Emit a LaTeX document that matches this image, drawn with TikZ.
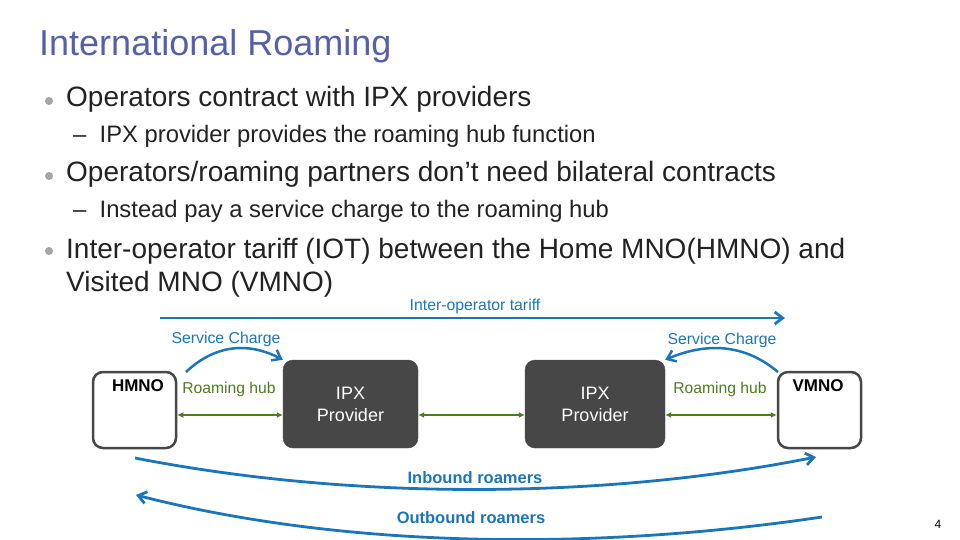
\documentclass[tikz,border=0pt]{standalone}
\usepackage{fontspec}
\setmainfont{Liberation Sans}
\usetikzlibrary{arrows.meta}
\definecolor{ttl}{HTML}{5560AA}
\definecolor{blu}{HTML}{1B75BB}
\definecolor{grn}{HTML}{4E7D1E}
\definecolor{dk}{HTML}{474747}
\definecolor{txt}{HTML}{222222}
\begin{document}
\begin{tikzpicture}[x=1pt,y=-1pt,
  bul/.style={circle,fill=gray!70,inner sep=0pt,minimum size=8pt},
  t1/.style={anchor=west,txt,font=\fontsize{28}{33}\selectfont,inner sep=0pt,align=left},
  t2/.style={anchor=west,txt,font=\fontsize{23.8}{27}\selectfont,inner sep=0pt},
  wbox/.style={draw=dk,line width=2.5pt,rounded corners=10pt,fill=white},
  dbox/.style={draw=dk,fill=dk,rounded corners=10pt,text=white,font=\fontsize{18}{22}\selectfont,align=center},
  bl/.style={blu,font=\fontsize{15.8}{18}\selectfont},
  gl/.style={grn,font=\fontsize{15.7}{18}\selectfont},
  garr/.style={grn,line width=2pt,{Latex[length=6pt,width=6pt]}-{Latex[length=6pt,width=6pt]}},
  barr/.style={blu,line width=2.8pt,-{Straight Barb[length=8pt,width=12pt]}}]
\useasboundingbox (0,0) rectangle (960,540);
\node[anchor=west,ttl,font=\fontsize{36}{40}\selectfont,inner sep=0pt] (title) at (39,46) {International Roaming};
\node[bul] (b1) at (49,101) {}; \node[t1] (l1) at (66,99) {Operators contract with IPX providers};
\node[t2] (l1a) at (73,136) {–\ \ IPX provider provides the roaming hub function};
\node[bul] (b2) at (49,176) {}; \node[t1] (l2) at (66,174) {Operators/roaming partners don’t need bilateral contracts};
\node[t2] (l2a) at (73,211) {–\ \ Instead pay a service charge to the roaming hub};
\node[bul] (b3) at (49,251) {}; \node[t1,anchor=north west] (l3) at (66,238) {Inter-operator tariff (IOT) between the Home MNO(HMNO) and\\Visited MNO (VMNO)};

\node[wbox,minimum width=83pt,minimum height=76pt] (h) at (134.5,410) {};
\node[wbox,minimum width=83pt,minimum height=76pt] (v) at (819.5,410) {};
\node[dbox,minimum width=135pt,minimum height=88pt] (p1) at (350.5,404) {IPX\\Provider};
\node[dbox,minimum width=140pt,minimum height=88pt] (p2) at (595,404) {IPX\\Provider};
\node[font=\bfseries\fontsize{17}{20}\selectfont] (ht) at (138,386) {HMNO};
\node[font=\bfseries\fontsize{17}{20}\selectfont] (vt) at (818,386) {VMNO};
\node[gl] (rh1) at (229,389) {Roaming hub};
\node[gl] (rh2) at (720,389) {Roaming hub};
\draw[garr] (h.east|-0,415) -- (p1.west|-0,415);
\draw[garr] (p1.east|-0,415) -- (p2.west|-0,415);
\draw[garr] (p2.east|-0,415) -- (v.west|-0,415);

\node[bl] (it) at (475,306) {Inter-operator tariff};
\coordinate (ta) at (160,318); \coordinate (tb) at (785,318);
\draw[barr] (ta) -- (tb);
\node[bl] (sc1) at (226,339) {Service Charge};
\node[bl] (sc2) at (722,340) {Service Charge};
\coordinate (s1a) at (186,372); \coordinate (s2a) at (778,372);
\draw[barr,line width=2.5pt] (s1a) .. controls (220,340) and (255,345) .. (p1.north west);
\draw[barr,line width=2.5pt] (s2a) .. controls (740,340) and (700,345) .. (p2.north east);

\node[blu,font=\bfseries\fontsize{16.5}{19}\selectfont] (ib) at (475,478) {Inbound roamers};
\node[blu,font=\bfseries\fontsize{16.5}{19}\selectfont] (ob) at (471,518) {Outbound roamers};
\coordinate (i1) at (135,458); \coordinate (i2) at (816,457);
\draw[barr] (i1) .. controls (350,500) and (600,500) .. (i2);
\coordinate (o1) at (822,517); \coordinate (o2) at (136,495);
\draw[barr] (o1) .. controls (600,550) and (350,550) .. (o2);
\node[font=\fontsize{12}{14}\selectfont] (pg) at (938,524) {4};
\end{tikzpicture}
\end{document}
